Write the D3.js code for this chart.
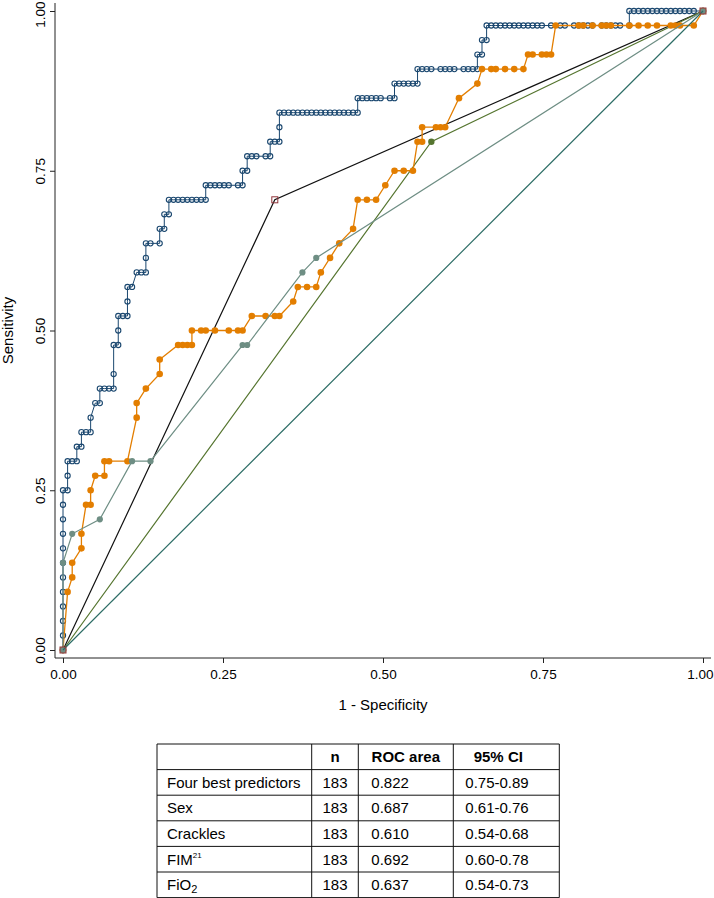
<!DOCTYPE html>
<html><head><meta charset="utf-8">
<script src="https://cdn.jsdelivr.net/npm/d3@7"></script>
<style>
body{margin:0;background:#fff}
svg{display:block}
text{font-family:"Liberation Sans",Arial,Helvetica,sans-serif;fill:#000}
</style>
</head><body>
<svg id="chart" width="714" height="898"></svg>
<script>
// ---- data (counts of false positives out of 139 negatives, true positives out of 44 positives) ----
const nNeg = 139, nPos = 44;
const axisTicks = [0, 0.25, 0.5, 0.75, 1];

const fourBestPts = [[0,0],[0,1],[0,2],[0,3],[0,4],[0,5],[0,6],[0,7],[0,8],[0,9],[0,10],[0,11],
 [1,11],[1,12],[1,13],[2,13],[3,13],[3,14],[4,14],[4,15],[5,15],[6,15],[6,16],[7,17],[8,17],
 [8,18],[9,18],[10,18],[11,18],[11,19],[11,21],[12,21],[12,22],[12,23],[13,23],[14,23],[14,24],
 [14,25],[15,25],[16,26],[17,26],[18,26],[18,27],[18,28],[19,28],[21,28],[21,29],[22,29],[22,30],
 [23,30],[23,31],[24,31],[25,31],[26,31],[27,31],[28,31],[29,31],[30,31],[31,31],[31,32],[32,32],
 [33,32],[34,32],[35,32],[36,32],[38,32],[39,32],[39,33],[40,33],[40,34],[41,34],[42,34],[44,34],
 [45,34],[45,35],[46,35],[47,35],[47,36],[47,37],[48,37],[49,37],[50,37],[51,37],[52,37],[53,37],
 [54,37],[55,37],[56,37],[57,37],[58,37],[59,37],[60,37],[61,37],[62,37],[63,37],[64,37],[64,38],
 [65,38],[66,38],[67,38],[68,38],[69,38],[71,38],[72,38],[72,39],[73,39],[74,39],[75,39],[76,39],
 [77,39],[77,40],[78,40],[79,40],[80,40],[82,40],[83,40],[84,40],[85,40],[87,40],[88,40],[89,40],
 [90,40],[90,41],[91,41],[91,42],[92,42],[92,43],[93,43],[94,43],[95,43],[96,43],[97,43],[98,43],
 [99,43],[100,43],[101,43],[102,43],[103,43],[104,43],[106,43],[108,43],[109,43],[111,43],[112,43],
 [113,43],[114,43],[115,43],[117,43],[118,43],[119,43],[120,43],[121,43],[123,43],[123,44],[124,44],
 [125,44],[126,44],[127,44],[128,44],[129,44],[130,44],[131,44],[132,44],[133,44],[134,44],[135,44],
 [136,44],[137,44],[139,44]];

const sexPts = [[0,0],[46,31],[139,44]];
const cracklesPts = [[0,0],[80,35],[139,44]];

const fimPts = [[0,0],[1,4],[2,5],[2,6],[4,7],[4,8],[5,10],[6,10],[6,11],[7,12],[9,12],[9,13],[10,13],
 [14,13],[16,16],[16,17],[18,18],[21,19],[21,20],[25,21],[26,21],[27,21],[28,21],[28,22],[30,22],
 [31,22],[33,22],[36,22],[38,22],[39,22],[41,23],[44,23],[46,23],[47,23],[50,24],[51,25],[53,25],
 [55,25],[56,26],[58,27],[60,28],[63,29],[64,31],[66,31],[68,31],[70,32],[72,33],[74,33],[76,33],
 [77,35],[78,35],[78,36],[81,36],[82,36],[83,36],[86,38],[90,39],[91,40],[93,40],[94,40],[96,40],
 [98,40],[100,40],[101,41],[102,41],[104,41],[105,41],[106,41],[107,43],[112,43],[113,43],[115,43],
 [117,43],[118,43],[119,43],[123,43],[125,43],[127,43],[129,43],[132,43],[133,43],[134,43],[137,43],
 [139,44]];

const fio2Pts = [[0,0],[0,6],[2,8],[8,9],[15,13],[19,13],[39,21],[40,21],[52,26],[55,27],[139,44]];
const refPts = [[0,0],[139,44]];

const tableHead = ["", "n", "ROC area", "95% CI"];
const tableLabels = ["Four best predictors", "Sex", "Crackles", "FIM", "FiO"];
const tableSup = ["", "", "", "21", ""];
const tableSub = ["", "", "", "", "2"];
const tableN = ["183", "183", "183", "183", "183"];
const tableAUC = ["0.822", "0.687", "0.610", "0.692", "0.637"];
const tableCI = ["0.75-0.89", "0.61-0.76", "0.54-0.68", "0.60-0.78", "0.54-0.73"];

// ---- drawing ----
const svg = d3.select("#chart");
const x = d3.scaleLinear().domain([0, 1]).range([63, 703]);
const y = d3.scaleLinear().domain([0, 1]).range([650, 11]);
const fx = d => x(d[0] / nNeg), fy = d => y(d[1] / nPos);
const line = d3.line().x(fx).y(fy);

const C = {navy:"#1a476f", maroon:"#90353b", forest:"#55752f", orange:"#e37e00", teal:"#6e8e84", emerald:"#2d6d66"};

// axes
const gy = svg.append("g").attr("transform", "translate(55,0)")
  .call(d3.axisLeft(y).tickValues(axisTicks).tickFormat(d3.format(".2f")).tickSize(5).tickSizeOuter(0));
gy.select(".domain").remove();
gy.attr("font-family", null).attr("font-size", null);
gy.selectAll(".tick line").attr("stroke", "#222");
gy.selectAll(".tick text").attr("transform", "rotate(-90)").attr("x", 0).attr("y", -10).attr("dy", 0)
  .attr("text-anchor", "middle").style("font-size", "13.5px");
gy.selectAll(".tick text").filter(d => d === 1).attr("text-anchor", "end").attr("x", 10);

const gx = svg.append("g").attr("transform", "translate(0,658)")
  .call(d3.axisBottom(x).tickValues(axisTicks).tickFormat(d3.format(".2f")).tickSize(5).tickSizeOuter(0));
gx.select(".domain").remove();
gx.attr("font-family", null).attr("font-size", null);
gx.selectAll(".tick line").attr("stroke", "#222");
gx.selectAll(".tick text").attr("y", 11).style("font-size", "13.5px");
gx.selectAll(".tick text").filter(d => d === 1).attr("text-anchor", "end").attr("x", 10);

svg.append("line").attr("x1", 55).attr("x2", 55).attr("y1", 3).attr("y2", 658).attr("stroke", "#222");
svg.append("line").attr("x1", 55).attr("x2", 711).attr("y1", 658).attr("y2", 658).attr("stroke", "#222");

svg.append("text").attr("transform", "translate(13,330.5) rotate(-90)").attr("text-anchor", "middle")
  .style("font-size", "15px").text("Sensitivity");
svg.append("text").attr("x", 383).attr("y", 710).attr("text-anchor", "middle")
  .style("font-size", "15px").text("1 - Specificity");

// curves
const plot = svg.append("g");
// Four best predictors
plot.append("path").datum(fourBestPts).attr("d", line).attr("fill", "none").attr("stroke", C.navy).attr("stroke-width", 1);
plot.selectAll(".mb").data(fourBestPts).join("circle").attr("cx", fx).attr("cy", fy).attr("r", 2.6)
  .attr("fill", "none").attr("stroke", C.navy).attr("stroke-width", 1.1);
// Sex
plot.append("path").datum(sexPts).attr("d", line).attr("fill", "none").attr("stroke", "#111").attr("stroke-width", 1.2);
// Crackles
plot.append("path").datum(cracklesPts).attr("d", line).attr("fill", "none").attr("stroke", C.forest).attr("stroke-width", 1.2);
plot.selectAll(".mc").data(cracklesPts).join("circle").attr("cx", fx).attr("cy", fy).attr("r", 3.2).attr("fill", C.forest);
// FIM
plot.append("path").datum(fimPts).attr("d", line).attr("fill", "none").attr("stroke", C.orange).attr("stroke-width", 1.3);
plot.selectAll(".mf").data(fimPts).join("circle").attr("cx", fx).attr("cy", fy).attr("r", 3.3).attr("fill", C.orange);
// FiO2
plot.append("path").datum(fio2Pts).attr("d", line).attr("fill", "none").attr("stroke", C.teal).attr("stroke-width", 1.2);
plot.selectAll(".mo").data(fio2Pts).join("circle").attr("cx", fx).attr("cy", fy).attr("r", 3.1).attr("fill", C.teal);
// reference
plot.append("path").datum(refPts).attr("d", line).attr("fill", "none").attr("stroke", C.emerald).attr("stroke-width", 1.2);
// Sex markers
plot.selectAll(".ms").data(sexPts).join("rect").attr("x", d => fx(d) - 3).attr("y", d => fy(d) - 3)
  .attr("width", 6).attr("height", 6).attr("fill", "none").attr("stroke", C.maroon).attr("stroke-width", 1);

// table
const colX = [157, 311.7, 358.3, 453.3, 559.3];
const rowsY = d3.scaleBand().domain(d3.range(6)).range([744, 897.6]);
const tg = svg.append("g");
tg.selectAll(".hl").data(d3.range(7)).join("line")
  .attr("x1", colX[0]).attr("x2", colX[4])
  .attr("y1", i => i < 6 ? rowsY(i) : rowsY.range()[1]).attr("y2", i => i < 6 ? rowsY(i) : rowsY.range()[1])
  .attr("stroke", "#111").attr("stroke-width", 1);
tg.selectAll(".vl").data(colX).join("line")
  .attr("x1", d => d).attr("x2", d => d).attr("y1", 744).attr("y2", 897.6)
  .attr("stroke", "#111").attr("stroke-width", 1);

const base = i => rowsY(i) + rowsY.bandwidth() / 2 + 5.3;
// header
tg.append("text").attr("x", (colX[1] + colX[2]) / 2).attr("y", base(0)).attr("text-anchor", "middle")
  .style("font-size", "15px").style("font-weight", "bold").text(tableHead[1]);
tg.append("text").attr("x", (colX[2] + colX[3]) / 2).attr("y", base(0)).attr("text-anchor", "middle")
  .style("font-size", "15px").style("font-weight", "bold").text(tableHead[2]);
tg.append("text").attr("x", (colX[3] + colX[4]) / 2 - 8).attr("y", base(0)).attr("text-anchor", "middle")
  .style("font-size", "15px").style("font-weight", "bold").text(tableHead[3]);

tableLabels.forEach((lab, i) => {
  const yy = base(i + 1);
  const t = tg.append("text").attr("x", colX[0] + 10).attr("y", yy).style("font-size", "15px").text(lab);
  if (tableSup[i]) t.append("tspan").attr("dy", -7).style("font-size", "8px").text(tableSup[i]);
  if (tableSub[i]) t.append("tspan").attr("dy", 3).style("font-size", "11px").text(tableSub[i]);
  tg.append("text").attr("x", (colX[1] + colX[2]) / 2).attr("y", yy).attr("text-anchor", "middle").style("font-size", "15px").text(tableN[i]);
  tg.append("text").attr("x", colX[2] + 13).attr("y", yy).style("font-size", "15px").text(tableAUC[i]);
  tg.append("text").attr("x", colX[3] + 12).attr("y", yy).style("font-size", "15px").text(tableCI[i]);
});
</script>
</body></html>
